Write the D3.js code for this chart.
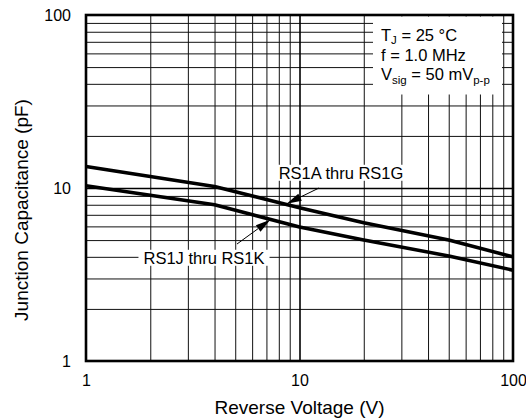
<!DOCTYPE html>
<html><head><meta charset="utf-8">
<script src="https://cdn.jsdelivr.net/npm/d3@7"></script>
<style>
html,body{margin:0;padding:0;background:#fff;}
svg text{font-family:"Liberation Sans",Arial,Helvetica,sans-serif;fill:#000;}
</style></head>
<body><svg id="c" width="526" height="420"></svg>
<script>
// ---- data ----
const voltage = [1, 4, 10, 20, 50, 100];
const capAthruG = [13.3, 10.2, 7.7, 6.3, 5.0, 4.0];
const capJthruK = [10.3, 8.0, 5.95, 5.0, 4.05, 3.35];
const xTickLabels = [1, 10, 100];
const yTickLabels = [1, 10, 100];
const seriesNames = ["RS1A thru RS1G", "RS1J thru RS1K"];
const xTitle = "Reverse Voltage (V)";
const yTitle = "Junction Capacitance (pF)";

const svg = d3.select("#c");
const L = 86, R = 513, T = 15, B = 361;
const x = d3.scaleLog().domain([1, 100]).range([L, R]);
const y = d3.scaleLog().domain([1, 100]).range([B, T]);

const minor = [];
[1, 10].forEach(d => { for (let k = 2; k <= 9; k++) minor.push(d * k); });

// grid (minor)
svg.append("g").attr("transform", `translate(0,${B})`)
  .call(d3.axisBottom(x).tickValues(minor).tickSize(-(B - T)).tickFormat(""))
  .call(g => g.select(".domain").remove())
  .call(g => g.selectAll("line").attr("stroke", "#111").attr("stroke-width", 1));
svg.append("g").attr("transform", `translate(${L},0)`)
  .call(d3.axisLeft(y).tickValues(minor).tickSize(-(R - L)).tickFormat(""))
  .call(g => g.select(".domain").remove())
  .call(g => g.selectAll("line").attr("stroke", "#111").attr("stroke-width", 1));
// major grid at 10
svg.append("g").attr("transform", `translate(0,${B})`)
  .call(d3.axisBottom(x).tickValues([10]).tickSize(-(B - T)).tickFormat(""))
  .call(g => g.select(".domain").remove())
  .call(g => g.selectAll("line").attr("stroke", "#000").attr("stroke-width", 1.6));
svg.append("g").attr("transform", `translate(${L},0)`)
  .call(d3.axisLeft(y).tickValues([10]).tickSize(-(R - L)).tickFormat(""))
  .call(g => g.select(".domain").remove())
  .call(g => g.selectAll("line").attr("stroke", "#000").attr("stroke-width", 1.6));

// white box behind conditions (masks grid)
svg.append("rect").attr("x", 373).attr("y", T + 1.5).attr("width", 129).attr("height", 78).attr("fill", "#fff");

// curves
const line = d3.line().x(d => x(d[0])).y(d => y(d[1]));
[capAthruG, capJthruK].forEach(arr => {
  svg.append("path").datum(voltage.map((v, i) => [v, arr[i]]))
    .attr("d", line).attr("fill", "none").attr("stroke", "#000")
    .attr("stroke-width", 3.6).attr("stroke-linejoin", "round");
});

// labels with arrows
const fs = 16.5;
function label(txt, cx, cy, tail, tip) {
  const g = svg.append("g");
  const bg = g.append("rect").attr("fill", "#fff");
  const t = g.append("text").attr("x", cx).attr("y", cy).attr("dy", "0.35em")
    .attr("text-anchor", "middle").attr("font-size", fs).text(txt);
  const bb = t.node().getBBox();
  bg.attr("x", bb.x - 5).attr("y", bb.y + 1).attr("width", bb.width + 10).attr("height", bb.height - 2);
  const x1 = tail[0], y1 = tail[1], x2 = x(tip[0]), y2 = y(tip[1]);
  const ang = Math.atan2(y2 - y1, x2 - x1);
  const hl = 15, hw = 4;
  const bx = x2 - hl * Math.cos(ang), by = y2 - hl * Math.sin(ang);
  g.append("line").attr("x1", x1).attr("y1", y1).attr("x2", bx).attr("y2", by)
    .attr("stroke", "#000").attr("stroke-width", 1);
  g.append("path").attr("d", `M${x2},${y2}L${bx + hw * Math.sin(ang)},${by - hw * Math.cos(ang)}L${bx - hw * Math.sin(ang)},${by + hw * Math.cos(ang)}Z`)
    .attr("fill", "#000");
}
label(seriesNames[0], 341, 173, [319, 188], [8.7, 8.1]);
label(seriesNames[1], 204, 258, [237, 244], [7.3, 6.55]);

// conditions text
const ct = svg.append("g").attr("font-size", fs);
const t1 = ct.append("text").attr("x", 381).attr("y", 41);
t1.append("tspan").text("T");
t1.append("tspan").attr("dy", 3).attr("font-size", 11.5).text("J");
t1.append("tspan").attr("dy", -3).text(" = 25 °C");
ct.append("text").attr("x", 381).attr("y", 61).text("f = 1.0 MHz");
const t3 = ct.append("text").attr("x", 381).attr("y", 80);
t3.append("tspan").text("V");
t3.append("tspan").attr("dy", 4).attr("font-size", 11.5).text("sig");
t3.append("tspan").attr("dy", -4).text(" = 50 mV");
t3.append("tspan").attr("dy", 4).attr("font-size", 11.5).text("p-p");

// frame
svg.append("rect").attr("x", L).attr("y", T).attr("width", R - L).attr("height", B - T)
  .attr("fill", "none").attr("stroke", "#000").attr("stroke-width", 2.6);

// tick labels
svg.append("g").attr("transform", `translate(0,${B})`)
  .call(d3.axisBottom(x).tickValues(xTickLabels).tickSize(0).tickPadding(14).tickFormat(d3.format("d")))
  .call(g => g.select(".domain").remove())
  .call(g => g.selectAll("text").attr("font-size", 16).attr("font-family", "Liberation Sans, Arial, sans-serif"));
svg.append("g").attr("transform", `translate(${L},0)`)
  .call(d3.axisLeft(y).tickValues(yTickLabels).tickSize(0).tickPadding(15).tickFormat(d3.format("d")))
  .call(g => g.select(".domain").remove())
  .call(g => g.selectAll("text").attr("font-size", 16).attr("font-family", "Liberation Sans, Arial, sans-serif"));

// titles
svg.append("text").attr("x", (L + R) / 2).attr("y", 414).attr("text-anchor", "middle")
  .attr("font-size", 19).text(xTitle);
svg.append("text").attr("transform", `translate(28,210) rotate(-90)`)
  .attr("text-anchor", "middle").attr("font-size", 19).text(yTitle);
</script></body></html>
